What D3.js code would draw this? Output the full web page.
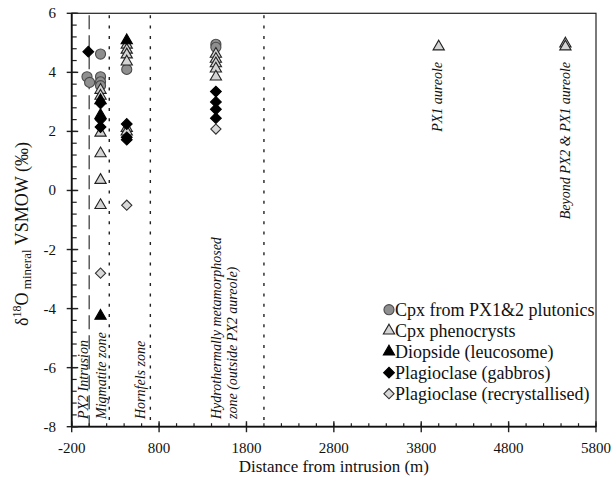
<!DOCTYPE html>
<html><head><meta charset="utf-8">
<script src="https://cdn.jsdelivr.net/npm/d3@7/dist/d3.min.js"></script>
<style>body{margin:0;background:#fff}svg{display:block}text{font-family:"Liberation Serif","Times New Roman",serif;fill:#111}</style>
</head><body><svg id="c" width="613" height="484"></svg>
<script>
// ---- data ----
const xTicks = [-200, 800, 1800, 2800, 3800, 4800, 5800];
const yTicks = [-8, -6, -4, -2, 0, 2, 4, 6];
// [distance m, d18O]
const cpxPlutonics = [[-25,3.85],[5,3.66],[130,4.62],[130,3.85],[130,3.68],[130,3.55],[430,4.10],[1450,4.95],[1450,4.85]];
const cpxPheno = [[130,3.40],[130,3.20],[130,1.95],[130,1.25],[130,0.35],[130,-0.50],
  [430,4.93],[430,4.76],[430,4.60],[430,4.36],[430,2.11],[430,1.99],
  [1450,4.62],[1450,4.45],[1450,4.30],[1450,4.12],[1450,3.85],
  [4000,4.87],[5450,4.97],[5450,4.87]];
const diopside = [[430,5.08],[130,3.05],[130,2.55],[130,-4.25]];
const plagGabbro = [[-10,4.70],[130,2.95],[130,2.40],[130,2.15],[430,2.25],[430,1.80],[430,1.72],
  [1450,3.35],[1450,3.00],[1450,2.75],[1450,2.45]];
const plagRecryst = [[130,-2.80],[430,-0.50],[1450,2.08]];
const zoneLines = [{x:0, kind:"long"},{x:230, kind:"dot"},{x:700, kind:"dot"},{x:2000, kind:"dot"}];
const legendLabels = ["Cpx from PX1&2 plutonics","Cpx phenocrysts","Diopside (leucosome)","Plagioclase (gabbros)","Plagioclase (recrystallised)"];

// ---- layout ----
const svg = d3.select("#c");
const L = 71.7, R = 596, T = 13.3, B = 426.7;
const x = d3.scaleLinear().domain([-200, 5800]).range([L, R]);
const y = d3.scaleLinear().domain([-8, 6]).range([B, T]);

// frame
svg.append("rect").attr("x",L).attr("y",T).attr("width",R-L).attr("height",B-T)
  .attr("fill","none").attr("stroke","#222").attr("stroke-width",1.2);

// zone lines
zoneLines.forEach(z=>{
  svg.append("line").attr("x1",x(z.x)).attr("x2",x(z.x)).attr("y1",T+2).attr("y2",B)
    .attr("stroke", z.kind==="long" ? "#333" : "#222")
    .attr("stroke-width", z.kind==="long" ? 1.2 : 1.4)
    .attr("stroke-dasharray", z.kind==="long" ? "14,6" : "3,7.3");
});

// axes
const xMinor = d3.range(-200, 5801, 200);
const yMinor = d3.range(-8, 6.001, 0.4);
const gx = svg.append("g");
gx.selectAll("line.mn").data(xMinor).enter().append("line")
  .attr("x1",d=>x(d)).attr("x2",d=>x(d)).attr("y1",B).attr("y2",B-3.5).attr("stroke","#222").attr("stroke-width",1.2);
gx.selectAll("line.mj").data(xTicks).enter().append("line")
  .attr("x1",d=>x(d)).attr("x2",d=>x(d)).attr("y1",B-5.5).attr("y2",B+5.5).attr("stroke","#222").attr("stroke-width",1.4);
gx.selectAll("text").data(xTicks).enter().append("text")
  .attr("x",d=>x(d)).attr("y",453).attr("text-anchor","middle").attr("font-size",15).text(d=>d);
gx.append("line").attr("x1",L).attr("x2",R).attr("y1",B).attr("y2",B).attr("stroke","#111").attr("stroke-width",1.8);

const gy = svg.append("g");
gy.selectAll("line.mn").data(yMinor).enter().append("line")
  .attr("x1",L).attr("x2",L+5).attr("y1",d=>y(d)).attr("y2",d=>y(d)).attr("stroke","#222").attr("stroke-width",1.2);
gy.selectAll("line.mj").data(yTicks).enter().append("line")
  .attr("x1",L-5).attr("x2",L+6.5).attr("y1",d=>y(d)).attr("y2",d=>y(d)).attr("stroke","#222").attr("stroke-width",1.4);
gy.selectAll("text").data(yTicks).enter().append("text")
  .attr("x",56).attr("y",d=>y(d)+5).attr("text-anchor","end").attr("font-size",15).text(d=>d);
gy.append("line").attr("x1",L).attr("x2",L).attr("y1",T).attr("y2",B).attr("stroke","#111").attr("stroke-width",1.8);

// axis titles
svg.append("text").attr("x",(L+R)/2).attr("y",472).attr("text-anchor","middle").attr("font-size",17)
  .text("Distance from intrusion (m)");
const yt = svg.append("text").attr("transform","translate(28,234) rotate(-90)").attr("text-anchor","middle").attr("font-size",18);
yt.append("tspan").text("δ");
yt.append("tspan").attr("font-size",12).attr("dy",-7).text("18");
yt.append("tspan").attr("dy",7).text("O");
yt.append("tspan").attr("font-size",13).attr("dy",3).text(" mineral");
yt.append("tspan").attr("dy",-3).text(" VSMOW (‰)");

// zone labels
function vlabel(px, py, anchor, txt){
  svg.append("text").attr("transform",`translate(${px},${py}) rotate(-90)`).attr("text-anchor",anchor)
    .attr("font-size",14).attr("font-style","italic").text(txt);
}
vlabel(88, 419, "start", "PX2 Intrusion");
vlabel(106, 419, "start", "Migmatite zone");
vlabel(145, 419, "start", "Hornfels zone");
vlabel(221, 419, "start", "Hydrothermally metamorphosed");
vlabel(237, 419, "start", "zone (outside PX2 aureole)");
vlabel(441.5, 62, "end", "PX1 aureole");
vlabel(570, 62, "end", "Beyond PX2 & PX1 aureole");

// markers
const styles = [
  {data:cpxPlutonics, sym:d3.symbolCircle, size:80, rot:0, fill:"#8f8f8f", stroke:"#4a4a4a"},
  {data:cpxPheno, sym:d3.symbolTriangle, size:55, rot:0, fill:"#d4d4d4", stroke:"#222"},
  {data:diopside, sym:d3.symbolTriangle, size:55, rot:0, fill:"#000", stroke:"#000"},
  {data:plagGabbro, sym:d3.symbolSquare, size:58, rot:45, fill:"#000", stroke:"#000"},
  {data:plagRecryst, sym:d3.symbolSquare, size:52, rot:45, fill:"#d8d8d8", stroke:"#333"}
];
styles.forEach(s=>{
  const path = d3.symbol().type(s.sym).size(s.size);
  svg.append("g").selectAll("path").data(s.data).enter().append("path")
    .attr("d", path)
    .attr("transform", d=>`translate(${x(d[0])},${y(d[1])}) rotate(${s.rot})`)
    .attr("fill", s.fill).attr("stroke", s.stroke).attr("stroke-width",1.1);
});

// legend
const lg = svg.append("g");
legendLabels.forEach((lab,i)=>{
  const s = styles[i];
  const cy = 309.7 + i*21;
  lg.append("path").attr("d", d3.symbol().type(s.sym).size(s.size)())
    .attr("transform",`translate(389,${cy}) rotate(${s.rot})`)
    .attr("fill", s.fill).attr("stroke", s.stroke).attr("stroke-width",1.1);
  lg.append("text").attr("x",395).attr("y",cy+6).attr("font-size",18).text(lab);
});
</script></body></html>
